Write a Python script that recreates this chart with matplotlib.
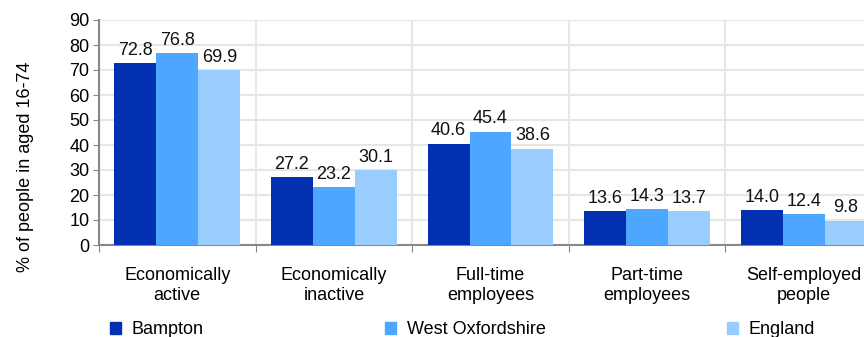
import matplotlib
matplotlib.use("Agg")
import matplotlib.pyplot as plt
from matplotlib.patches import Patch
import numpy as np

plt.rcParams['font.family'] = ['Liberation Sans', 'DejaVu Sans']

categories = ["Economically\nactive", "Economically\ninactive", "Full-time\nemployees",
              "Part-time\nemployees", "Self-employed\npeople"]
series_names = ["Bampton", "West Oxfordshire", "England"]
bampton = [72.8, 27.2, 40.6, 13.6, 14.0]
west_oxfordshire = [76.8, 23.2, 45.4, 14.3, 12.4]
england = [69.9, 30.1, 38.6, 13.7, 9.8]
colors = ["#0230B0", "#4DA6FF", "#99CCFF"]

fig = plt.figure(figsize=(8.64, 3.37), dpi=100)
ax = fig.add_axes([99/864, 1-245/337, 783/864, 225/337])

x = np.arange(len(categories))
w = 0.268
handles = []
for i, (vals, name, c) in enumerate(zip([bampton, west_oxfordshire, england], series_names, colors)):
    bars = ax.bar(x + (i-1)*w, vals, width=w, color=c, zorder=3)
    for b, v in zip(bars, vals):
        ax.annotate(f"{v:.1f}", (b.get_x()+b.get_width()/2, v), xytext=(0, 3),
                    textcoords="offset points", ha="center", va="bottom", fontsize=13, color="#111")
    handles.append(Patch(color=c, label=name))

ax.set_xlim(-0.5, 4.5)
ax.set_ylim(0, 90)
ax.set_yticks(range(0, 91, 10))
ax.tick_params(axis='y', labelsize=13, length=4, color="#888", pad=3)
ax.set_xticks(np.arange(-0.5, 5, 1))
ax.set_xticklabels([])
ax.tick_params(axis='x', length=5, color="#888")
ax.set_xticks(x, minor=True)
ax.set_xticklabels(categories, minor=True, fontsize=13)
ax.tick_params(axis='x', which='minor', length=0, pad=16)
for lbl in ax.get_xticklabels(minor=True):
    lbl.set_linespacing(1.2)
ax.grid(True, which='major', color="#E6E6E6", linewidth=1.5, zorder=0)
for s in ['top', 'right']:
    ax.spines[s].set_visible(False)
for s in ['left', 'bottom']:
    ax.spines[s].set_color("#888")
    ax.spines[s].set_linewidth(1.5)
ax.set_ylabel("% of people in aged 16-74", fontsize=13, va="center")
ax.yaxis.set_label_coords((26-99)/783, (245-167)/225)

xs = [110/864, 385/864, 727/864]
for h, xx in zip(handles, xs):
    fig.legend(handles=[h], loc='center left', bbox_to_anchor=(xx, 1-330/337), frameon=False,
               fontsize=13, handlelength=0.6, handleheight=0.6, handletextpad=0.6,
               borderaxespad=0, borderpad=0)

fig.savefig("out.png", dpi=100)
